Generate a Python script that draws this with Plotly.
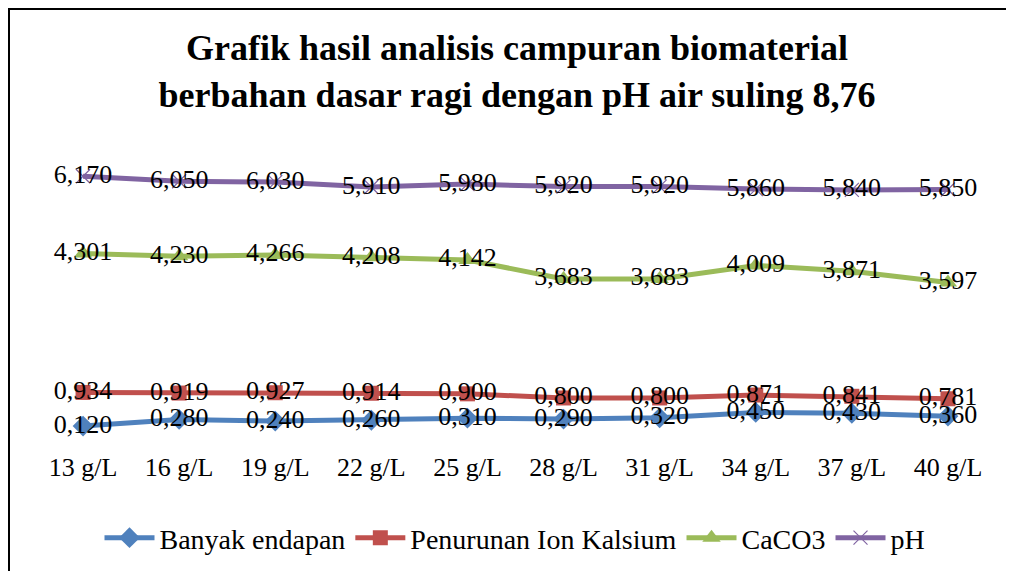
import plotly.graph_objects as go

categories = ["13 g/L", "16 g/L", "19 g/L", "22 g/L", "25 g/L", "28 g/L", "31 g/L", "34 g/L", "37 g/L", "40 g/L"]
banyak_endapan = [0.120, 0.280, 0.240, 0.260, 0.310, 0.290, 0.320, 0.450, 0.430, 0.360]
penurunan_ion = [0.934, 0.919, 0.927, 0.914, 0.900, 0.800, 0.800, 0.871, 0.841, 0.781]
caco3 = [4.301, 4.230, 4.266, 4.208, 4.142, 3.683, 3.683, 4.009, 3.871, 3.597]
ph = [6.170, 6.050, 6.030, 5.910, 5.980, 5.920, 5.920, 5.860, 5.840, 5.850]

series = [
    ("Banyak endapan", banyak_endapan, "#4F81BD", dict(symbol="diamond", size=16)),
    ("Penurunan Ion Kalsium", penurunan_ion, "#C0504D", dict(symbol="square", size=15)),
    ("CaCO3", caco3, "#9BBB59", dict(symbol="triangle-up", size=16)),
    ("pH", ph, "#8064A2", dict(symbol="x-thin-open", size=14, line=dict(width=1.2, color="#8064A2"))),
]

def fmt(v):
    return f"{v:.3f}".replace(".", ",")

FONT = "Liberation Serif, Times New Roman, serif"

# page body has an 8px default margin; figure coordinates are offset accordingly
W, H = 1006, 563
L, R, T, B = 27, 18, 134, 140
PW, PH = W - L - R, H - T - B

fig = go.Figure()
for name, vals, color, marker in series:
    m = dict(color=color, **marker)
    fig.add_trace(go.Scatter(x=categories, y=vals, name=name, mode="lines+markers",
                             line=dict(color=color, width=5), marker=m, cliponaxis=False))
# data labels on top of everything
for name, vals, color, marker in series:
    fig.add_trace(go.Scatter(x=categories, y=vals, mode="text", text=[fmt(v) for v in vals],
                             textposition="middle center", showlegend=False, hoverinfo="skip",
                             cliponaxis=False,
                             textfont=dict(family=FONT, size=26, color="black")))

fig.update_layout(
    width=W, height=H,
    margin=dict(l=L, r=R, t=T, b=B, autoexpand=False),
    paper_bgcolor="white", plot_bgcolor="white",
    title=dict(text="Grafik hasil analisis campuran biomaterial<br>berbahan dasar ragi dengan pH air suling 8,76",
               x=509 / W, xanchor="center", y=1 - 52 / H, yanchor="middle", yref="container",
               font=dict(family=FONT, size=36, color="black", weight="bold")),
    xaxis=dict(showgrid=False, zeroline=False, showline=False, ticks="", automargin=False,
               range=[-0.5, 9.5],
               tickfont=dict(family=FONT, size=26, color="black"), ticklabelstandoff=18),
    yaxis=dict(range=[0, 7], visible=False, automargin=False),
    legend=dict(orientation="h", x=(515 - 8 - L) / PW, xanchor="center", y=-(538 - 431) / PH, yanchor="middle",
                font=dict(family=FONT, size=28, color="black"), itemwidth=50,
                bgcolor="rgba(0,0,0,0)"),
    showlegend=True,
)

# outer chart border (extends past right/bottom edges)
fig.add_shape(type="rect", xref="paper", yref="paper",
              x0=(0.5 - L) / PW, x1=(W + 20 - L) / PW,
              y0=-(H + 20 - (T + PH)) / PH, y1=(T + PH - 0.5) / PH,
              line=dict(color="black", width=3), fillcolor="rgba(0,0,0,0)")

fig.write_html("out.html")
